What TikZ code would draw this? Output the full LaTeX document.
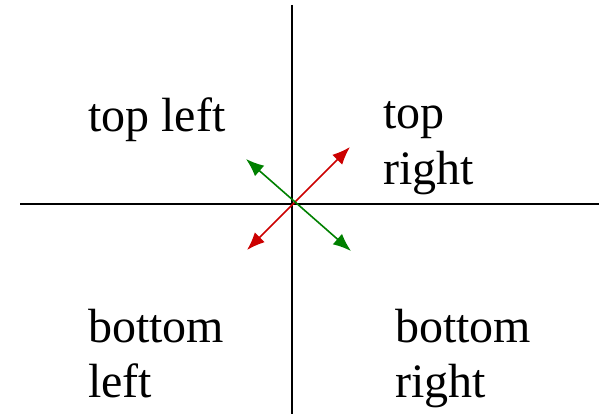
\documentclass[tikz,border=0pt]{standalone}
\usepackage{fontspec}
\setmainfont{Liberation Serif}
\usepackage{xcolor}
\usetikzlibrary{arrows.meta}
\definecolor{arrred}{RGB}{204,0,0}
\definecolor{arrgreen}{RGB}{0,128,0}

\begin{document}
\begin{tikzpicture}[x=1pt, y=-1pt, >={Latex[length=18pt,width=14pt]},
    line cap=round, line join=round,
    quadlabel/.style={anchor=base west, inner sep=0pt, align=left,
        font=\fontsize{48}{55}\selectfont}]
\useasboundingbox (0,0) rectangle (599,414);

% Assi
\coordinate (xl) at (20,204);
\coordinate (xr) at (599,204);
\coordinate (yt) at (292,5);
\coordinate (yb) at (292,414);
\draw[line width=2pt, line cap=butt] (xl) -- (xr);
\draw[line width=2pt, line cap=butt] (yt) -- (yb);

% Frecce
\coordinate (rsw) at (247,250);
\coordinate (rne) at (350,147);
\coordinate (gnw) at (246,159);
\coordinate (gse) at (351,251);
\draw[<->, arrred, line width=1.6pt] (rsw) -- (rne);
\draw[<->, arrgreen, line width=1.6pt] (gnw) -- (gse);

% Etichette (ancorate alla linea di base dell'ultima riga)
\node[quadlabel] (tl) at (88,132) {top left};
\node[quadlabel] (tr) at (383,184) {top\\right};
\node[quadlabel] (bl) at (88,397) {bottom\\left};
\node[quadlabel] (br) at (395,397) {bottom\\right};

\end{tikzpicture}
\end{document}
